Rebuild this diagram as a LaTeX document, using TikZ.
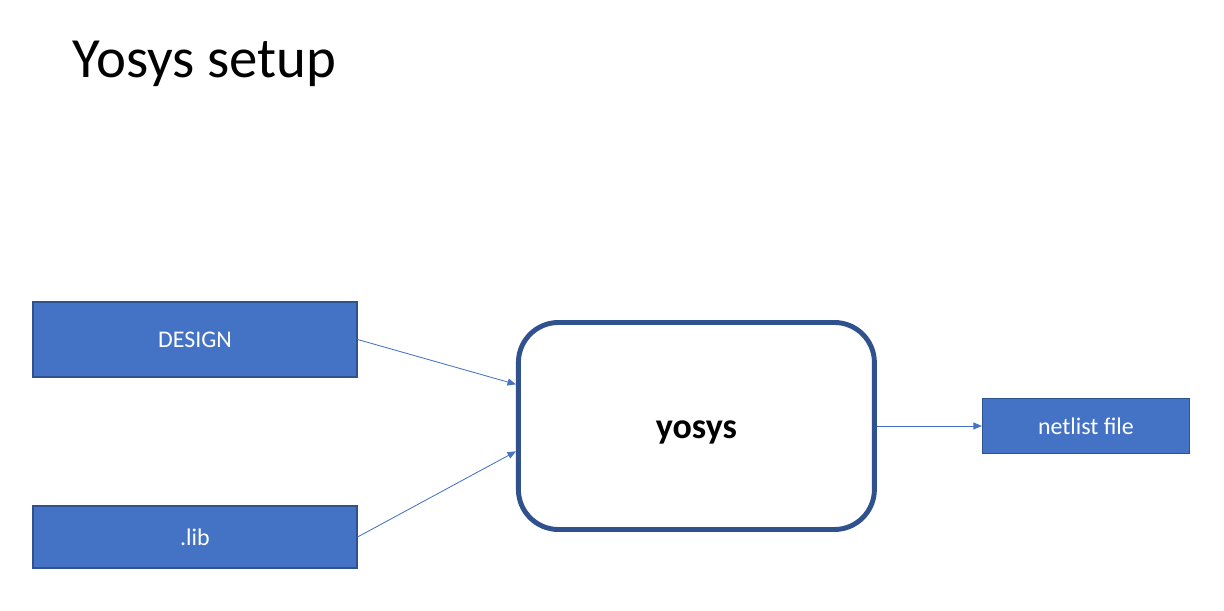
\documentclass[tikz,border=0pt]{standalone}
\usepackage{fontspec}
\setmainfont{Carlito}
\usepackage{xcolor}
\usetikzlibrary{arrows.meta, positioning}
\definecolor{officeblue}{HTML}{4472C4}
\definecolor{darkblue}{HTML}{2F528F}
\tikzstyle{inputbox} = [rectangle, minimum width=8.1cm, text centered, draw=darkblue, line width=0.8pt, fill=officeblue, text=white, font=\fontsize{17}{20}\selectfont]
\tikzstyle{tool} = [rectangle, rounded corners=1cm, minimum width=8.9cm, minimum height=5.175cm, text centered, text height=17.7pt, text depth=0pt, draw=darkblue, line width=3.5pt, fill=white, font=\bfseries\fontsize{25.6}{30}\selectfont]
\tikzstyle{arrow} = [draw=officeblue, line width=0.6pt, -{Triangle[length=6pt, width=5pt]}]

\begin{document}
\begin{tikzpicture}
			\useasboundingbox (0,0) rectangle (30.6,15.275);
			
			\node (title) [anchor=base west, font=\fontsize{40.4}{48}\selectfont] at (1.7,13.325) {Yosys setup};
			
			\node (yosys) [tool] at (17.41,4.625) {yosys};
			
			\node (design) [inputbox, minimum height=1.875cm] at (4.875,6.7875) {DESIGN};
			
			\node (lib) [inputbox, minimum height=1.55cm] at (4.875,1.85) {.lib};
			
			\node (netlist) [inputbox, minimum width=5.175cm, minimum height=1.375cm, right=2.625cm of yosys] {netlist file};
			
			
			\draw [arrow] (design.east) -- (yosys.167.5);
			\draw [arrow] (lib.east) -- (yosys.188.5);
			\draw [arrow] (yosys.east) -- (netlist.west);
			
		\end{tikzpicture}
\end{document}
